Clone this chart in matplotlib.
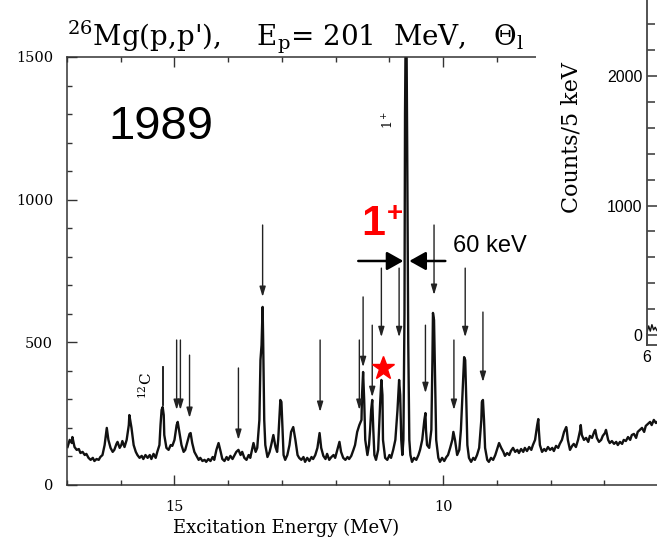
import numpy as np
import matplotlib.pyplot as plt
from matplotlib.patches import Rectangle
from matplotlib.ticker import MultipleLocator, FixedLocator

plt.rcParams['font.family'] = 'DejaVu Serif'
plt.rcParams['mathtext.fontset'] = 'dejavuserif'

# traced spectrum: excitation energy (MeV) and counts
energy = [16.99, 16.95, 16.91, 16.90, 16.86, 16.82, 16.78, 16.75, 16.71, 16.67,
          16.64, 16.60, 16.56, 16.52, 16.49, 16.45, 16.41, 16.38, 16.34, 16.30,
          16.26, 16.23, 16.19, 16.15, 16.12, 16.08, 16.06, 16.02, 15.99, 15.97,
          15.93, 15.89, 15.85, 15.84, 15.80, 15.76, 15.72, 15.69, 15.65, 15.61,
          15.58, 15.54, 15.50, 15.46, 15.43, 15.39, 15.35, 15.32, 15.28, 15.26,
          15.24, 15.22, 15.20, 15.19, 15.15, 15.11, 15.07, 15.04, 15.00, 14.96,
          14.94, 14.91, 14.87, 14.83, 14.80, 14.76, 14.72, 14.70, 14.67, 14.63,
          14.59, 14.55, 14.52, 14.48, 14.44, 14.41, 14.37, 14.33, 14.29, 14.26,
          14.22, 14.18, 14.14, 14.11, 14.07, 14.03, 14.00, 13.96, 13.92, 13.88,
          13.85, 13.81, 13.77, 13.74, 13.70, 13.66, 13.62, 13.59, 13.55, 13.53,
          13.49, 13.46, 13.42, 13.40, 13.38, 13.36, 13.35, 13.33, 13.31, 13.27,
          13.23, 13.20, 13.16, 13.12, 13.09, 13.07, 13.05, 13.03, 13.01, 12.99,
          12.97, 12.94, 12.90, 12.86, 12.83, 12.79, 12.75, 12.71, 12.68, 12.64,
          12.60, 12.57, 12.53, 12.49, 12.45, 12.42, 12.38, 12.34, 12.30, 12.27,
          12.23, 12.19, 12.16, 12.12, 12.08, 12.04, 12.01, 11.97, 11.93, 11.90,
          11.86, 11.82, 11.78, 11.75, 11.71, 11.67, 11.64, 11.60, 11.56, 11.52,
          11.51, 11.49, 11.47, 11.45, 11.41, 11.38, 11.36, 11.34, 11.32, 11.30,
          11.28, 11.25, 11.21, 11.17, 11.15, 11.13, 11.12, 11.08, 11.04, 11.00,
          10.97, 10.93, 10.89, 10.85, 10.82, 10.80, 10.78, 10.76, 10.74, 10.72,
          10.71, 10.69, 10.67, 10.65, 10.63, 10.61, 10.58, 10.54, 10.50, 10.46,
          10.43, 10.39, 10.35, 10.33, 10.32, 10.30, 10.26, 10.22, 10.20, 10.19,
          10.17, 10.15, 10.13, 10.09, 10.06, 10.02, 9.98, 9.94, 9.91, 9.87,
          9.83, 9.81, 9.78, 9.74, 9.70, 9.67, 9.63, 9.61, 9.59, 9.57,
          9.55, 9.52, 9.48, 9.44, 9.41, 9.37, 9.33, 9.29, 9.28, 9.26,
          9.24, 9.22, 9.18, 9.15, 9.11, 9.07, 9.03, 9.00, 8.96, 8.92,
          8.88, 8.85, 8.81, 8.77, 8.74, 8.70, 8.66, 8.62, 8.59, 8.55,
          8.51, 8.48, 8.44, 8.40, 8.36, 8.33, 8.29, 8.25, 8.23, 8.22,
          8.20, 8.16, 8.12, 8.09, 8.05, 8.01, 7.97, 7.94, 7.90, 7.86,
          7.83, 7.79, 7.75, 7.71, 7.70, 7.68, 7.64, 7.60, 7.57, 7.53,
          7.49, 7.45, 7.44, 7.42, 7.38, 7.34, 7.30, 7.27, 7.23, 7.19,
          7.17, 7.14, 7.10, 7.06, 7.03, 6.99, 6.97, 6.93, 6.90, 6.86,
          6.82, 6.78, 6.75, 6.71, 6.67, 6.64, 6.60, 6.56, 6.52, 6.49,
          6.45, 6.41, 6.38, 6.34, 6.30, 6.26, 6.23, 6.19, 6.15, 6.12,
          6.08, 6.04, 6.00]
counts = [133, 158, 147, 168, 133, 123, 126, 112, 116, 105,
          109, 95, 88, 95, 84, 91, 88, 98, 105, 140,
          200, 158, 130, 116, 123, 144, 151, 130, 140, 154,
          133, 158, 210, 245, 200, 140, 116, 105, 95, 102,
          91, 105, 95, 105, 91, 109, 95, 116, 140, 210,
          263, 273, 245, 175, 130, 123, 140, 137, 158, 210,
          221, 186, 140, 116, 123, 151, 179, 182, 147, 116,
          102, 88, 95, 84, 88, 81, 91, 84, 98, 88,
          123, 147, 116, 91, 84, 98, 88, 102, 91, 105,
          116, 123, 105, 116, 95, 88, 105, 95, 130, 147,
          116, 130, 228, 438, 490, 624, 508, 228, 140, 98,
          116, 140, 175, 133, 116, 158, 228, 298, 291, 193,
          105, 88, 105, 140, 186, 203, 158, 105, 95, 88,
          98, 81, 95, 84, 98, 91, 105, 130, 182, 130,
          102, 91, 109, 88, 98, 105, 95, 123, 151, 116,
          95, 88, 98, 91, 102, 123, 140, 186, 210, 228,
          315, 396, 298, 158, 105, 140, 193, 263, 298, 193,
          105, 88, 123, 298, 368, 315, 158, 95, 88, 105,
          95, 123, 158, 263, 368, 315, 158, 105, 158, 600,
          1300, 1800, 1200, 500, 158, 105, 81, 95, 88, 105,
          123, 158, 228, 252, 193, 140, 130, 193, 438, 603,
          578, 368, 158, 95, 81, 95, 84, 98, 105, 130,
          158, 186, 158, 105, 123, 193, 368, 448, 438, 298,
          140, 95, 81, 95, 88, 105, 130, 228, 291, 298,
          228, 130, 88, 81, 95, 88, 105, 123, 147, 130,
          116, 102, 112, 105, 119, 130, 116, 123, 112, 126,
          116, 130, 119, 133, 123, 140, 158, 210, 231, 193,
          140, 116, 126, 119, 133, 123, 130, 119, 137, 130,
          144, 158, 186, 203, 193, 158, 123, 137, 144, 133,
          158, 193, 210, 175, 158, 165, 151, 172, 165, 186,
          193, 165, 151, 158, 172, 182, 193, 158, 147, 154,
          144, 151, 140, 151, 144, 158, 154, 168, 158, 175,
          179, 165, 186, 193, 200, 186, 207, 214, 221, 210,
          228, 217, 224]

# downward arrows marking peaks
arrow_e = [14.96, 14.89, 14.72, 13.81, 13.36, 12.29, 11.56, 11.49,
           11.32, 11.15, 10.82, 10.33, 10.17, 9.80, 9.59, 9.26]
arrow_top = [508, 508, 455, 410, 911, 508, 508, 659,
             560, 760, 760, 560, 911, 508, 760, 606]
arrow_tip = [263, 263, 235, 158, 659, 256, 263, 413,
             308, 518, 518, 322, 666, 263, 518, 361]

c12_e = 15.22
c12_lo, c12_hi = 280, 413
star_e, star_c = 11.12, 410
width_left = (11.58, 10.74)
width_right = (9.96, 10.63)
width_c = 785

# visible piece of the right-hand spectrum
inset_e = [6.0, 6.05, 6.1, 6.15, 6.2, 6.25, 6.3]
inset_c = [20, 70, 30, 80, 40, 60, 35]

fig = plt.figure(figsize=(6.57, 5.40), dpi=100)

ax = fig.add_axes([0.102, 0.1019, 0.9406, 0.7926])
ax.plot(energy, counts, color='#111111', lw=1.7)
ax.set_xlim(17, 5.5)
ax.set_ylim(0, 1500)
ax.xaxis.set_major_locator(FixedLocator([15, 10]))
ax.xaxis.set_minor_locator(MultipleLocator(1))
ax.yaxis.set_major_locator(MultipleLocator(500))
ax.yaxis.set_minor_locator(MultipleLocator(100))
ax.tick_params(which='both', direction='in', top=True, right=True,
               color='#333333', labelsize=10.5)
ax.tick_params(which='major', length=7, width=1)
ax.tick_params(which='minor', length=3.5, width=1)
ax.tick_params(axis='y', pad=10)
ax.tick_params(axis='x', pad=11)
for s in ax.spines.values():
    s.set_color('#333333')
    s.set_linewidth(1.1)

for e, top, tip in zip(arrow_e, arrow_top, arrow_tip):
    ax.annotate('', xy=(e, tip), xytext=(e, top),
                arrowprops=dict(arrowstyle='-|>,head_length=0.6,head_width=0.18',
                                color='#222222', lw=1.0, mutation_scale=10,
                                shrinkA=0, shrinkB=0))

ax.plot([c12_e, c12_e], [c12_lo, c12_hi], color='#111111', lw=1.3)
ax.text(15.54, 350, r'$^{12}$C', rotation=90, fontsize=11,
        ha='center', va='center')
ax.text(11.0, 1279, r'1$^+$', rotation=90, fontsize=9,
        ha='center', va='center')

ax.plot(star_e, star_c, marker='*', color='red', ms=17, mec='red', zorder=5)

for start, end in (width_left, width_right):
    ax.annotate('', xy=(end, width_c), xytext=(start, width_c),
                arrowprops=dict(arrowstyle='-|>,head_length=0.5,head_width=0.28',
                                color='black', lw=1.8, mutation_scale=20,
                                shrinkA=0, shrinkB=0))

fig.text(108/657, 1-139/540, '1989', fontsize=34, family='Liberation Sans',
         ha='left', va='baseline')
fig.text(361/657, 1-235/540, '1', color='red', fontsize=31, fontweight='bold',
         family='Liberation Sans', ha='left', va='baseline')
fig.text(395/657, 1-214/540, '+', color='red', fontsize=20, fontweight='bold',
         family='Liberation Sans', ha='center', va='center')
fig.text(453/657, 1-252/540, '60 keV', fontsize=17, family='Liberation Sans',
         ha='left', va='baseline', zorder=3)

# title, cut by the panel on the right
fig.text(67/657, 1 - 45/540,
         r"$^{26}$Mg(p,p'),    E$_{\rm p}$= 201  MeV,   $\Theta_{\rm l}$",
         fontsize=20, va='baseline', zorder=3)

fig.text(286/657, 1-528/540, 'Excitation Energy (MeV)', fontsize=13,
         ha='center', va='center')

fig.add_artist(Rectangle((536/657, 1-372/540), 1, 1, transform=fig.transFigure,
                         facecolor='white', edgecolor='none', zorder=4))

axi = fig.add_axes([647/657, 0.3611, 0.5, 0.690], zorder=5)
axi.plot(inset_e, inset_c, color='#111111', lw=1)
axi.set_xlim(6, 16)
axi.set_ylim(-77, 2800)
axi.yaxis.set_major_locator(MultipleLocator(1000))
axi.yaxis.set_minor_locator(MultipleLocator(200))
axi.xaxis.set_major_locator(FixedLocator([6]))
axi.tick_params(which='both', direction='in', color='#444444', labelsize=11.5)
axi.tick_params(which='major', length=9, width=1.2)
axi.tick_params(which='minor', length=6, width=1.2)
for lab in axi.get_xticklabels() + axi.get_yticklabels():
    lab.set_family('Liberation Sans')
for s in axi.spines.values():
    s.set_color('#444444')
    s.set_linewidth(1.3)
fig.text(571/657, 1-137/540, 'Counts/5 keV', rotation=90, fontsize=16,
         ha='center', va='center', zorder=6)

fig.savefig('out.png', dpi=100)
